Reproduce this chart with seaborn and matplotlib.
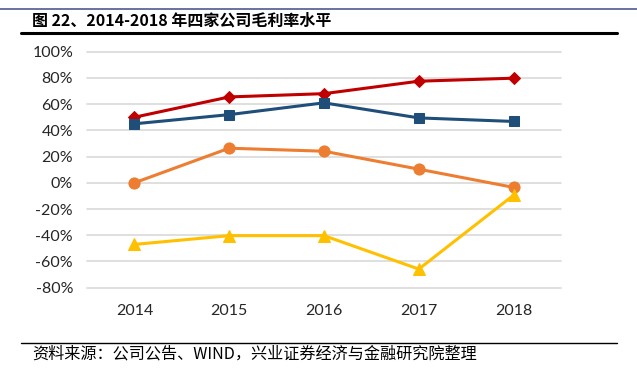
import matplotlib
matplotlib.use("Agg")
import matplotlib.pyplot as plt
from matplotlib.lines import Line2D
import seaborn as sns
import pandas as pd
import numpy as np

years = ["2014", "2015", "2016", "2017", "2018"]
company_a = [50.0, 65.5, 68.0, 77.5, 79.8]    # red diamonds
company_b = [45.0, 52.0, 61.0, 49.5, 46.8]    # blue squares
company_c = [0.0, 26.4, 24.1, 10.4, -3.5]     # orange circles
company_d = [-47.0, -40.3, -40.3, -65.8, -9.4]  # yellow triangles
yticks = [-80, -60, -40, -20, 0, 20, 40, 60, 80, 100]
title = "图 22、2014-2018 年四家公司毛利率水平"
source = "资料来源：公司公告、WIND，兴业证券经济与金融研究院整理"

sns.set_theme(style="white")
plt.rcParams['font.family'] = ['Lato', 'DejaVu Sans']

W, H = 637, 377
fig = plt.figure(figsize=(W / 100, H / 100), dpi=100)
ax = fig.add_axes([87 / W, 1 - 287.7 / H, (561 - 87) / W, (287.7 - 51.7) / H])

series = [
    ("A", company_a, "#C00000", "D", 6.0),
    ("B", company_b, "#1F4E79", "s", 7.5),
    ("C", company_c, "#ED7D31", "o", 8),
    ("D", company_d, "#FFC000", "^", 8),
]
x = np.arange(len(years))
for name, vals, color, marker, ms in series:
    df = pd.DataFrame({"x": x, "y": vals})
    sns.lineplot(data=df, x="x", y="y", ax=ax, color=color, marker=marker,
                 markersize=ms, markeredgecolor=color, linewidth=2.2, zorder=3)

ax.set_xlim(-0.5, len(years) - 0.5)
ax.set_ylim(-80, 100)
ax.set_yticks(yticks)
ax.set_yticklabels([f"{v}%" for v in yticks])
ax.set_xticks(x)
ax.set_xticklabels(years)
ax.set_xlabel("")
ax.set_ylabel("")
ax.grid(axis="y", color="#D9D9D9", linewidth=1.2)
ax.grid(axis="x", visible=False)
for gl in ax.get_ygridlines():
    gl.set_clip_on(False)
for s in ax.spines.values():
    s.set_visible(False)
ax.tick_params(axis="both", length=0, labelsize=11.5, colors="#262626")
ax.tick_params(axis="y", pad=10)
ax.tick_params(axis="x", pad=12)

cjk = ['Noto Sans CJK SC', 'DejaVu Sans']
# header/footer rules
fig.add_artist(Line2D([0, 1], [1 - 8.5 / H] * 2, color="#4F5A8F", linewidth=1.2))
fig.add_artist(Line2D([21 / W, 617 / W], [1 - 33 / H] * 2, color="black", linewidth=2.2))
fig.add_artist(Line2D([21 / W, 617 / W], [1 - 343.3 / H] * 2, color="black", linewidth=1.0))

fig.text(32 / W, 1 - 20.5 / H, title, family=cjk, fontsize=11.5, fontweight="bold",
         va="center", ha="left", color="black")
fig.text(32 / W, 1 - 354 / H, source, family=cjk, fontsize=11.6,
         va="center", ha="left", color="black")

fig.savefig("out.png", dpi=100)
